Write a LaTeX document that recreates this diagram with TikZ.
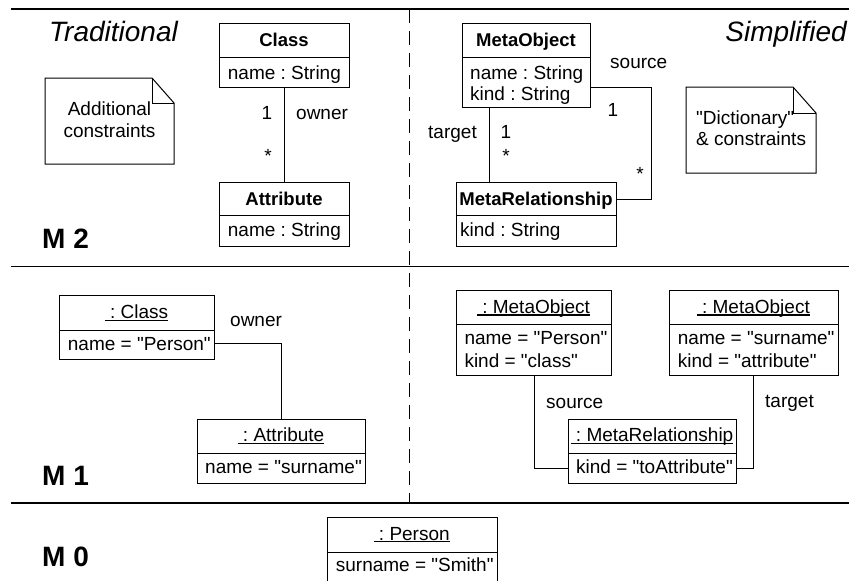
\documentclass[tikz,border=0pt]{standalone}
\usepackage{fontspec}
\setmainfont{Liberation Sans}[Ligatures=TeXOff]
\frenchspacing
\newcommand\myul[1]{\setbox0=\hbox{#1}\rlap{\rule[-2.2pt]{\wd0}{1.1pt}}\box0}
\begin{document}
\begin{tikzpicture}[x=1pt,y=-1pt,
  comp/.style={draw, line width=1.1pt, anchor=north west, inner sep=0pt, rectangle},
  txt/.style={inner sep=0pt, font=\fontsize{19}{22}\selectfont, anchor=base west},
  ctxt/.style={txt, anchor=base},
  btxt/.style={ctxt, font=\fontsize{18.5}{22}\selectfont\bfseries},
  big/.style={inner sep=0pt, font=\fontsize{28}{32}\selectfont, anchor=base west},
  conn/.style={line width=1pt},
  frame/.style={line width=1.1pt},
  notebox/.style={draw, line width=1pt, line join=miter}
]
\useasboundingbox (0,0) rectangle (849,581);
% frame
\draw[frame] (11,9) -- (849,9);
\draw[frame] (11,266.5) -- (849,266.5);
\draw[frame] (11,503) -- (849,503);
\draw[frame, dash pattern=on 14pt off 8pt] (409.5,9) -- (409.5,503);
% titles
\node[big, font=\fontsize{28}{32}\selectfont\itshape] (trad) at (49,41) {Traditional};
\node[big, anchor=base east, font=\fontsize{28}{32}\selectfont\itshape] (simp) at (847,41) {Simplified};
\node[big, font=\fontsize{28}{32}\selectfont\bfseries] (m2) at (42,248) {M 2};
\node[big, font=\fontsize{28}{32}\selectfont\bfseries] (m1) at (42,485) {M 1};
\node[big, font=\fontsize{28}{32}\selectfont\bfseries] (m0) at (42,566) {M 0};
% M2 traditional
\node[comp, minimum width=130pt, minimum height=34pt] (clsH) at (219,23) {};
\node[comp, minimum width=130pt, minimum height=30pt] (clsA) at (219,57) {};
\node[btxt] (clsHt) at (284,46.7) {Class};
\node[txt] (clsAt) at (227.7,79) {name : String};
\node[comp, minimum width=130pt, minimum height=33pt] (attH) at (219,182) {};
\node[comp, minimum width=130pt, minimum height=31pt] (attA) at (219,215) {};
\node[btxt] (attHt) at (284,205.5) {Attribute};
\node[txt] (attAt) at (227.7,236.5) {name : String};
\draw[conn] (clsA.south) -- (attH.north);
\node[ctxt] (mulA) at (267,119) {1};
\node[txt] (ownA) at (296,119) {owner};
\node[ctxt] (mulB) at (268,162) {*};
% note 1
\draw[notebox] (45,78) -- (152,78) -- (174,103) -- (174,164) -- (45,164) -- cycle;
\draw[notebox] (152,78) -- (152,103) -- (174,103);
\node[ctxt] (n1a) at (109.5,115) {Additional};
\node[ctxt] (n1b) at (109.5,137.3) {constraints};
% M2 simplified
\node[comp, minimum width=128pt, minimum height=34pt] (moH) at (462,23) {};
\node[comp, minimum width=128pt, minimum height=50pt] (moA) at (462,57) {};
\node[btxt] (moHt) at (526,46.7) {MetaObject};
\node[txt] (moAt1) at (470,79) {name : String};
\node[txt] (moAt2) at (470,100) {kind : String};
\node[comp, minimum width=160pt, minimum height=33pt] (mrH) at (456,182) {};
\node[comp, minimum width=160pt, minimum height=31pt] (mrA) at (456,215) {};
\node[btxt] (mrHt) at (536,205.5) {MetaRelationship};
\node[txt] (mrAt) at (460,236.5) {kind : String};
\draw[conn] ([xshift=27pt]moA.south west) -- ([xshift=33pt]mrH.north west);
\draw[conn] ([yshift=-5pt]moA.east) -- ++(60,0) |- (mrH.east);
\node[txt] (tgtA) at (428,138.5) {target};
\node[ctxt] (mulC) at (506,138.5) {1};
\node[ctxt] (mulD) at (506,162) {*};
\node[txt] (srcA) at (610,68.3) {source};
\node[ctxt] (mulE) at (613,116) {1};
\node[ctxt] (mulF) at (640,180) {*};
% note 2
\draw[notebox] (686,87) -- (793,87) -- (816,113) -- (816,173) -- (686,173) -- cycle;
\draw[notebox] (793,87) -- (793,113) -- (816,113);
\node[txt] (n2a) at (696,124) {"Dictionary"};
\node[txt] (n2b) at (696,145) {\& constraints};
% M1 traditional
\node[comp, minimum width=155pt, minimum height=35.3pt] (cobH) at (59,294.7) {};
\node[comp, minimum width=155pt, minimum height=29.3pt] (cobA) at (59,330) {};
\node[ctxt] (cobHt) at (136.5,318.7) {\myul{\ : Class}};
\node[txt] (cobAt) at (67.7,350) {name = "Person"};
\node[comp, minimum width=168pt, minimum height=33.7pt] (aobH) at (197,419) {};
\node[comp, minimum width=168pt, minimum height=30pt] (aobA) at (197,452.7) {};
\node[ctxt] (aobHt) at (281,441.7) {\myul{\ : Attribute}};
\node[txt] (aobAt) at (205,473.3) {name = "surname"};
\draw[conn] ([yshift=1.4pt]cobA.east) -| (aobH.north);
\node[txt] (ownB) at (230,326.7) {owner};
% M1 simplified
\node[comp, minimum width=155pt, minimum height=34.3pt] (mo1H) at (456,289.7) {};
\node[comp, minimum width=155pt, minimum height=51pt] (mo1A) at (456,324) {};
\node[ctxt] (mo1Ht) at (533.5,313.3) {\myul{\ : MetaObject}};
\node[txt] (mo1At1) at (464.3,344.3) {name = "Person"};
\node[txt] (mo1At2) at (464.3,367) {kind = "class"};
\node[comp, minimum width=168.7pt, minimum height=34.3pt] (mo2H) at (669,289.7) {};
\node[comp, minimum width=168.7pt, minimum height=51pt] (mo2A) at (669,324) {};
\node[ctxt] (mo2Ht) at (753.3,313.3) {\myul{\ : MetaObject}};
\node[txt] (mo2At1) at (677.7,344.3) {name = "surname"};
\node[txt] (mo2At2) at (677.7,367) {kind = "attribute"};
\node[comp, minimum width=168.6pt, minimum height=34pt] (mroH) at (567.7,418.7) {};
\node[comp, minimum width=168.6pt, minimum height=30pt] (mroA) at (567.7,452.7) {};
\node[ctxt] (mroHt) at (652,441.7) {\myul{\ : MetaRelationship}};
\node[txt] (mroAt) at (576,473.3) {kind = "toAttribute"};
\draw[conn] (mo1A.south) |- (mroA.west);
\draw[conn] (mo2A.south) |- (mroA.east);
\node[txt] (srcB) at (546,408.3) {source};
\node[txt] (tgtB) at (765,407) {target};
% M0
\node[comp, minimum width=170pt, minimum height=35pt] (perH) at (326.7,516.7) {};
\node[comp, minimum width=170pt, minimum height=28.8pt] (perA) at (326.7,551.7) {};
\node[ctxt] (perHt) at (411.7,540) {\myul{\ : Person}};
\node[txt] (perAt) at (335.7,571.7) {surname = "Smith"};
\end{tikzpicture}
\end{document}
